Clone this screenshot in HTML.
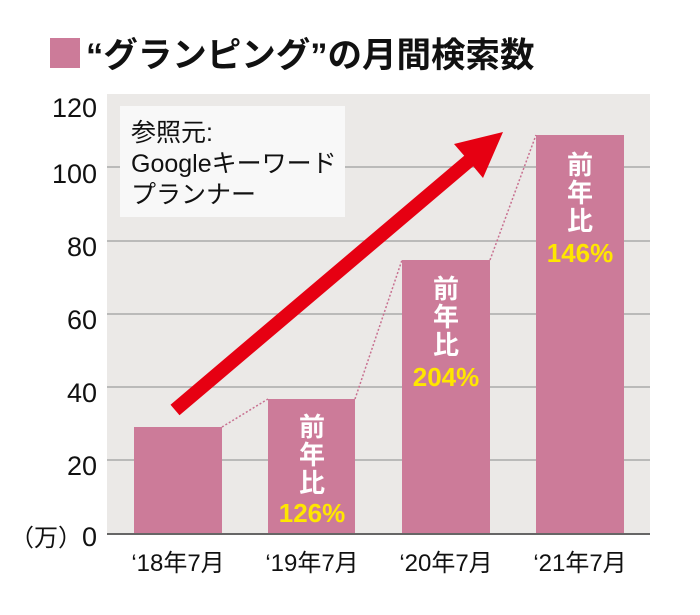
<!DOCTYPE html>
<html><head><meta charset="utf-8"><style>
body{margin:0;background:#fff;}
svg{display:block;font-family:"Liberation Sans","Noto Sans CJK JP",sans-serif;}
</style></head><body>
<svg width="700" height="615" viewBox="0 0 700 615" xmlns="http://www.w3.org/2000/svg">
<rect x="50" y="38" width="30" height="30" fill="#cc7b99"/>
<text x="86" y="67" font-size="34.5" font-weight="bold" fill="#111">“グランピング”の月間検索数</text>
<rect x="107" y="94" width="543" height="440" fill="#ebe9e7"/>
<g stroke="#aaa" stroke-width="1.5">
<line x1="107" y1="167" x2="650" y2="167"/><line x1="107" y1="241" x2="650" y2="241"/>
<line x1="107" y1="314" x2="650" y2="314"/><line x1="107" y1="387" x2="650" y2="387"/>
<line x1="107" y1="460" x2="650" y2="460"/>
</g>
<rect x="120" y="106" width="225" height="111" fill="#f8f8f8"/>
<g font-size="25" fill="#111">
<text x="131" y="141">参照元:</text>
<text x="131" y="172">Googleキーワード</text>
<text x="131" y="203">プランナー</text>
</g>
<g font-size="27" fill="#111" text-anchor="end">
<text x="97" y="117">120</text><text x="97" y="183">100</text><text x="97" y="256">80</text>
<text x="97" y="329">60</text><text x="97" y="402">40</text><text x="97" y="475">20</text>
<text x="97" y="546"><tspan font-size="24">（万）</tspan>0</text>
</g>
<g fill="#cc7b99">
<rect x="134" y="427" width="88" height="107"/><rect x="268" y="399" width="87" height="135"/>
<rect x="402" y="260" width="88" height="274"/><rect x="536" y="135" width="88" height="399"/>
</g>
<g stroke="#c87090" stroke-width="1.5" stroke-dasharray="2 2" fill="none">
<line x1="222" y1="427" x2="268" y2="399"/><line x1="355" y1="399" x2="402" y2="260"/><line x1="490" y1="260" x2="536" y2="135"/>
</g>
<polygon points="170.5,404.7 464.2,155.7 454,144 503,132 483,178 473.2,166.3 179.5,415.3" fill="#e60012"/>
<line x1="107" y1="534" x2="650" y2="534" stroke="#666" stroke-width="2"/>
<g font-size="26" font-weight="bold" fill="#fff" text-anchor="middle">
<text x="312" y="436">前</text><text x="312" y="464">年</text><text x="312" y="492">比</text>
<text x="446" y="298">前</text><text x="446" y="326">年</text><text x="446" y="354">比</text>
<text x="580" y="174">前</text><text x="580" y="202">年</text><text x="580" y="230">比</text>
</g>
<g font-size="26" font-weight="bold" fill="#ffe600" text-anchor="middle">
<text x="312" y="522">126%</text><text x="446" y="386">204%</text><text x="580" y="262">146%</text>
</g>
<g font-size="24" fill="#111" text-anchor="middle">
<text x="178" y="571">‘18年7月</text><text x="312" y="571">‘19年7月</text>
<text x="446" y="571">‘20年7月</text><text x="580" y="571">‘21年7月</text>
</g>
</svg>
</body></html>
